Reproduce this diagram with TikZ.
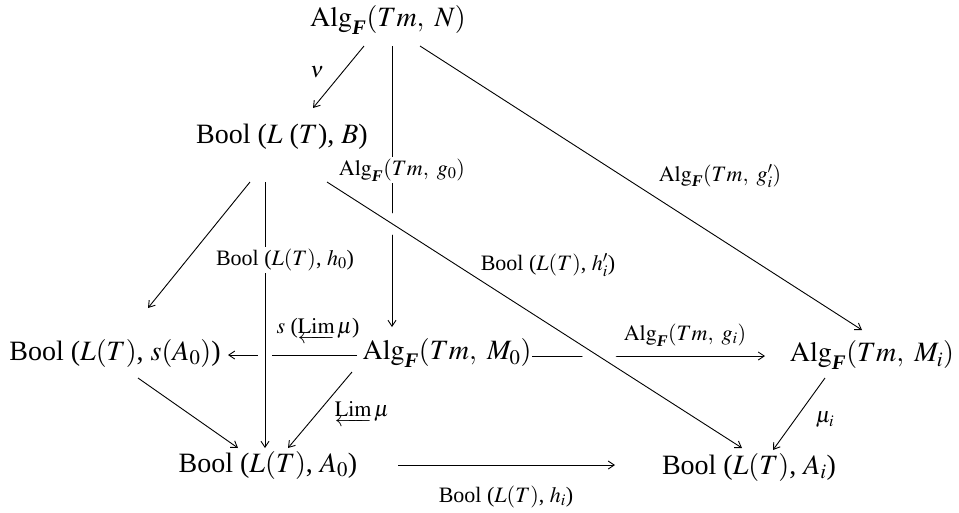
\documentclass[tikz,border=0pt]{standalone}
\usepackage{amsmath}
\usepackage{mathptmx}
\usepackage[no-math]{fontspec}
\setmainfont{Liberation Serif}
\usetikzlibrary{arrows.meta,calc}
\newcommand{\AlgF}{\mathrm{Alg}_{\text{\bfseries\itshape F}}}
\newcommand{\LimL}{\underleftarrow{\mathrm{Lim}}}
\begin{document}
\begin{tikzpicture}[x=1pt,y=-1pt,
  obj/.style={inner sep=0pt,font=\fontsize{28}{32}\selectfont},
  lab/.style={inner sep=2pt,font=\fontsize{22}{26}\selectfont},
  wlab/.style={lab,fill=white},
  arr/.style={line width=0.9pt,-{Straight Barb[length=6pt,width=8pt]}},
  gap/.style={white,line width=#1},
]
\useasboundingbox (0,0) rectangle (959,512);
\node[obj] (N)  at (388,20)  {$\AlgF(Tm,\ N)$};
\node[obj] (B)  at (282,137) {Bool ($L$ ($T$), $B$)};
\node[obj] (sA) at (115,353) {Bool ($L(T)$, $s(A_0)$)};
\node[obj] (M0) at (447,353) {$\AlgF(Tm,\ M_0)$};
\node[obj] (Mi) at (872,355) {$\AlgF(Tm,\ M_i)$};
\node[obj] (A0) at (268,465) {Bool ($L(T)$, $A_0$)};
\node[obj] (Ai) at (749,467) {Bool ($L(T)$, $A_i$)};

% first layer
\draw[arr] ($(N)+(-24,26)$) -- ($(B)+(31,-29)$);
\draw[arr] ($(N)+(4,26)$) -- ($(M0)+(-55,-26)$);
\draw[arr] ($(N)+(32,26)$) -- ($(Mi)+(-10,-25)$);
\draw[arr] ($(B)+(-32,45)$) -- ($(sA)+(33,-45)$);
\draw[arr] ($(M0)+(-90,2)$) -- ($(sA)+(113,2)$);
\draw[arr] ($(M0)+(85,3)$) -- ($(Mi)+(-107,1)$);
\draw[arr] ($(sA)+(23,25)$) -- ($(A0)+(-30,-17)$);
\draw[arr] ($(M0)+(-95,19)$) -- ($(A0)+(20,-17)$);
\draw[arr] ($(Mi)+(-47,23)$) -- ($(Ai)+(24,-17)$);
\draw[arr] ($(A0)+(130,0)$) -- ($(Ai)+(-134,-2)$);

% crossing lines with gaps
\draw[gap=14pt,shorten <=20pt,shorten >=20pt] ($(B)+(-17,45)$) -- ($(A0)+(-3,-17)$);
\draw[arr] ($(B)+(-17,45)$) -- ($(A0)+(-3,-17)$);
\draw[gap=18pt,shorten <=20pt,shorten >=20pt] ($(B)+(45,45)$) -- ($(Ai)+(-7,-19)$);
\draw[arr] ($(B)+(45,45)$) -- ($(Ai)+(-7,-19)$);

% labels
\node[lab]  (lnu)  at (317,72)  {$\nu$};
\node[wlab] (lg0)  at (402,170) {$\AlgF(Tm,\ g_0)$};
\node[lab]  (lgip) at (720,176) {$\AlgF(Tm,\ g'_i)$};
\node[wlab] (lh0)  at (285,260) {Bool ($L(T)$, $h_0$)};
\node[lab]  (lhip) at (548,265) {Bool ($L(T)$, $h'_i$)};
\node[lab]  (lslim) at (318,331) {$s$ ($\LimL\,\mu$)};
\node[lab]  (lgi)  at (685,335) {$\AlgF(Tm,\ g_i)$};
\node[lab]  (llim) at (362,414) {$\LimL\,\mu$};
\node[lab]  (lmui) at (825,420) {$\mu_i$};
\node[lab]  (lhi)  at (506,497) {Bool ($L(T)$, $h_i$)};
\end{tikzpicture}
\end{document}
